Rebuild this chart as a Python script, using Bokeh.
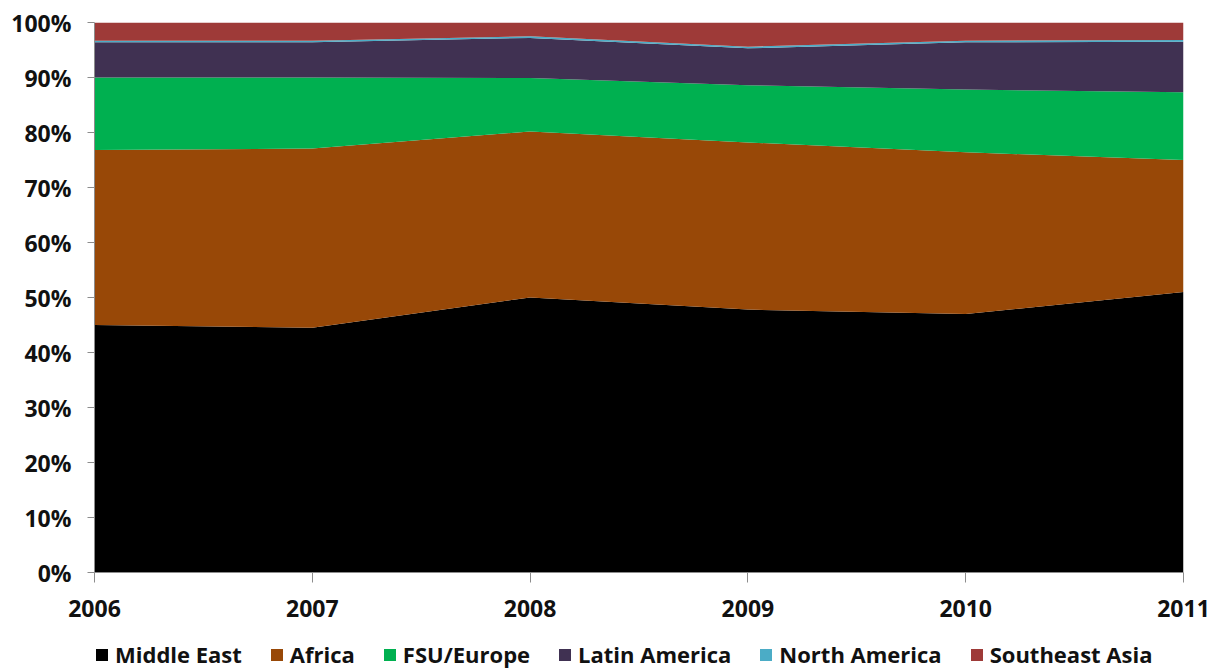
from bokeh.plotting import figure
from bokeh.layouts import column
from bokeh.models import ColumnDataSource, NumeralTickFormatter, FixedTicker, Legend, LegendItem
from bokeh.embed import file_html
from bokeh.resources import INLINE

# Regional share of exports, 2006-2011 (fractions of total)
years = [2006, 2007, 2008, 2009, 2010, 2011]
middle_east = [0.450, 0.445, 0.500, 0.478, 0.470, 0.510]
africa = [0.318, 0.326, 0.302, 0.304, 0.294, 0.240]
fsu_europe = [0.132, 0.129, 0.097, 0.104, 0.114, 0.123]
latin_america = [0.064, 0.064, 0.073, 0.067, 0.086, 0.092]
north_america = [0.003, 0.003, 0.003, 0.003, 0.003, 0.003]
southeast_asia = [0.033, 0.033, 0.025, 0.044, 0.033, 0.032]

series_names = ["Middle East", "Africa", "FSU/Europe", "Latin America",
                "North America", "Southeast Asia"]
series_colors = ["#000000", "#984807", "#00B050", "#403152", "#4BACC6", "#9E3A38"]
y_ticks = [i / 10 for i in range(11)]

source = ColumnDataSource(dict(
    x=years,
    s0=middle_east, s1=africa, s2=fsu_europe,
    s3=latin_america, s4=north_america, s5=southeast_asia,
))
keys = ["s0", "s1", "s2", "s3", "s4", "s5"]

FONT = "Open Sans"
TEXT_COLOR = "#111111"
AXIS_COLOR = "#8C8C8C"

# ---- stacked area chart ----
p = figure(width=1222, height=631, output_backend="svg", toolbar_location=None,
           x_range=(years[0], years[-1]), y_range=(0, 1),
           min_border_left=94, min_border_right=39, min_border_top=22,
           min_border_bottom=59)
p.outline_line_color = None
p.grid.visible = False
p.background_fill_color = "white"
p.border_fill_color = "white"

p.varea_stack(stackers=keys, x="x", color=series_colors, source=source)

p.yaxis.ticker = FixedTicker(ticks=y_ticks)
p.yaxis.formatter = NumeralTickFormatter(format="0%")
p.xaxis.ticker = FixedTicker(ticks=years)
for ax in (p.xaxis[0], p.yaxis[0]):
    ax.axis_line_color = AXIS_COLOR
    ax.major_tick_line_color = AXIS_COLOR
    ax.minor_tick_line_color = None
    ax.major_tick_in = 0
    ax.major_label_text_font = FONT
    ax.major_label_text_font_style = "bold"
    ax.major_label_text_font_size = "23px"
    ax.major_label_text_color = TEXT_COLOR
p.xaxis.major_tick_out = 10
p.xaxis.major_label_standoff = 17
p.yaxis.major_tick_out = 7
p.yaxis.major_label_standoff = 16

# ---- legend strip beneath the chart (its frame lines up with the chart's) ----
lg = figure(width=1222, height=38, output_backend="svg", toolbar_location=None,
            x_range=(0, 1), y_range=(0, 1),
            x_axis_type=None, y_axis_type=None,
            min_border_left=94, min_border_right=39, min_border_top=0,
            min_border_bottom=0)
lg.outline_line_color = None
lg.grid.visible = False
lg.background_fill_color = "white"
lg.border_fill_color = "white"

# zero-height areas: they only supply the legend swatches
swatches = []
for color in series_colors:
    swatches.append(lg.varea(x=[0, 0], y1=[0, 0], y2=[0, 0],
                             fill_color=color, fill_alpha=1))

items = [LegendItem(label=n, renderers=[r]) for n, r in zip(series_names, swatches)]
legend = Legend(items=items, orientation="horizontal", location=(0, 0),
                glyph_width=15, glyph_height=15, label_standoff=6, spacing=27,
                padding=0, margin=0, border_line_color=None,
                background_fill_alpha=0,
                label_text_font=FONT, label_text_font_style="bold",
                label_text_font_size="22px", label_text_color=TEXT_COLOR)
lg.add_layout(legend, "center")

layout = column(p, lg, spacing=0)
open("out.html", "w").write(file_html(layout, INLINE))
